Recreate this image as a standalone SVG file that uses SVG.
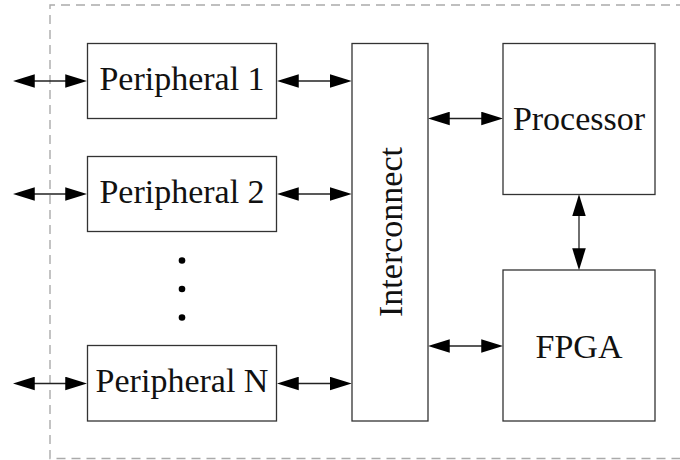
<svg xmlns="http://www.w3.org/2000/svg" width="680" height="460" viewBox="0 0 680 460">
<style>
.box{fill:#fff;stroke:#333;stroke-width:1.3}
.lbl{font-family:"Liberation Serif","Times New Roman",serif;font-size:34px;fill:#111;text-anchor:middle}
.con{stroke:#222;stroke-width:1.3;fill:none;marker-start:url(#ah);marker-end:url(#ah)}
.border{fill:none;stroke:#aaa;stroke-width:1.4;stroke-dasharray:9 6}
</style>
<defs>
<marker id="ah" markerUnits="userSpaceOnUse" markerWidth="22" markerHeight="14" viewBox="0 0 21 13" refX="16" refY="6.5" orient="auto-start-reverse">
<path d="M0,0 L21,6.5 L0,13 z" fill="#000"/>
</marker>
</defs>
<rect width="680" height="460" fill="#fff"/>
<path class="border" d="M700,5 H50 V458.5 H700"/>
<g id="connectors">
<line class="con" x1="18" y1="81" x2="82" y2="81"/>
<line class="con" x1="18" y1="194" x2="82" y2="194"/>
<line class="con" x1="18" y1="383.5" x2="82" y2="383.5"/>
<line class="con" x1="282" y1="81" x2="346.5" y2="81"/>
<line class="con" x1="282" y1="194" x2="346.5" y2="194"/>
<line class="con" x1="282" y1="383.5" x2="346.5" y2="383.5"/>
<line class="con" x1="433" y1="118.5" x2="498" y2="118.5"/>
<line class="con" x1="433" y1="346" x2="498" y2="346"/>
<line class="con" x1="579" y1="199.5" x2="579" y2="265"/>
</g>
<g id="peripheral1"><rect class="box" x="87.5" y="43.5" width="189" height="75"/><text class="lbl" x="182" y="89.5">Peripheral 1</text></g>
<g id="peripheral2"><rect class="box" x="87.5" y="156.5" width="189" height="75"/><text class="lbl" x="182" y="202.5">Peripheral 2</text></g>
<g id="dots"><circle cx="182" cy="260.5" r="3.3" fill="#000"/><circle cx="182" cy="289" r="3.3" fill="#000"/><circle cx="182" cy="317.5" r="3.3" fill="#000"/></g>
<g id="peripheralN"><rect class="box" x="87.5" y="345.5" width="189" height="75.5"/><text class="lbl" x="182" y="391.5">Peripheral N</text></g>
<g id="interconnect"><rect class="box" x="352" y="43.5" width="76" height="377.5"/><text class="lbl" transform="translate(401.5 232) rotate(-90)" x="0" y="0">Interconnect</text></g>
<g id="processor"><rect class="box" x="503" y="43.5" width="152" height="151"/><text class="lbl" x="579" y="130">Processor</text></g>
<g id="fpga"><rect class="box" x="503" y="270" width="152" height="151"/><text class="lbl" x="579" y="357.5">FPGA</text></g>
</svg>
